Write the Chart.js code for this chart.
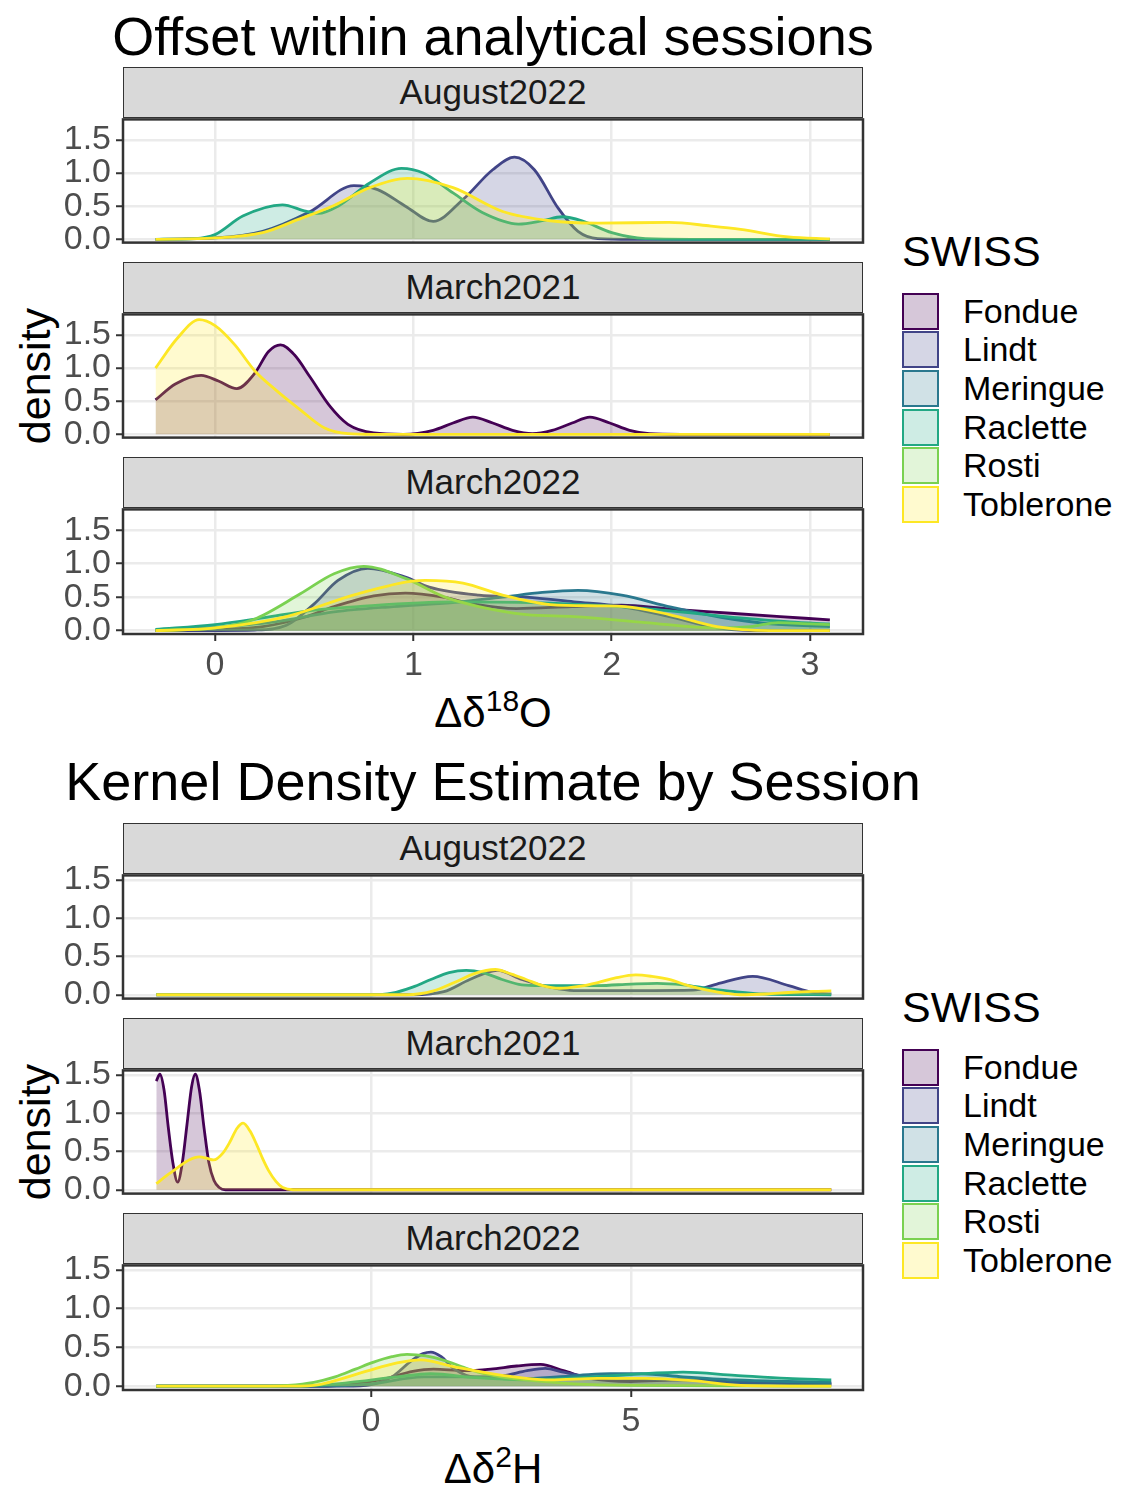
<!DOCTYPE html>
<html>
<head>
<meta charset="utf-8">
<script src="https://cdn.jsdelivr.net/npm/chart.js@4.4.1/dist/chart.umd.min.js"></script>
<style>
  body { margin: 0; background: #fff; font-family: "Liberation Sans", Arial, sans-serif; }
  #page { position: relative; width: 1121px; height: 1490px; overflow: hidden; background: #fff; }
  .title { position: absolute; left: 493px; transform: translateX(-50%); font-size: 54px; line-height: 1; white-space: nowrap; color: #000; }
  .strip { position: absolute; left: 123px; width: 740px; height: 51px; box-sizing: border-box; background: #D9D9D9;
           border: 1.5px solid #333; text-align: center; font-size: 35px; line-height: 48px; color: #1A1A1A; z-index: 2; }
  .panel { position: absolute; left: 0; z-index: 1; }
  .ytitle { position: absolute; width: 300px; height: 50px; line-height: 50px; text-align: center; font-size: 43px;
            color: #000; transform: rotate(-90deg); }
  .xtitle { position: absolute; left: 493px; transform: translateX(-50%); font-size: 42px; line-height: 1; white-space: nowrap; color: #000; }
  .xtitle sup { font-size: 30px; vertical-align: 16px; line-height: 0; }
  .legend { position: absolute; left: 902px; }
  .legend .ltitle { font-size: 43px; line-height: 1; color: #000; margin-bottom: 19px; }
  .legend .row { display: flex; align-items: center; height: 38.6px; }
  .legend .key { width: 37px; height: 37px; box-sizing: border-box; border: 2.5px solid; }
  .legend .lab { margin-left: 24px; font-size: 34px; color: #000; }
</style>
</head>
<body>
<div id="page"></div>
<script>
const sessions = ['August2022', 'March2021', 'March2022'];
const brands = ['Fondue', 'Lindt', 'Meringue', 'Raclette', 'Rosti', 'Toblerone'];
const brandColors = ['#440154', '#414487', '#2A788E', '#22A884', '#7AD151', '#FDE725'];

const densityTicks = [0, 0.5, 1.0, 1.5];
const o18Ticks = [0, 1, 2, 3];
const h2Ticks = [0, 5];

// offset d18O, [x, density]
const o18Aug22Lindt = [[-0.3,0],[0,0.02],[0.24,0.12],[0.48,0.42],[0.7,0.81],[0.82,0.75],[0.96,0.5],[1.1,0.27],[1.25,0.6],[1.4,1.05],[1.51,1.24],[1.61,1.05],[1.73,0.47],[1.83,0.12],[1.93,0.01],[2.1,0],[3.1,0]];
const o18Aug22Raclette = [[-0.3,0],[-0.1,0.01],[0,0.07],[0.14,0.35],[0.34,0.52],[0.45,0.43],[0.52,0.39],[0.62,0.5],[0.78,0.85],[0.94,1.07],[1.05,1.0],[1.2,0.7],[1.35,0.4],[1.53,0.23],[1.65,0.28],[1.75,0.34],[1.85,0.28],[2.0,0.1],[2.17,0.01],[2.4,0],[3.1,0]];
const o18Aug22Toblerone = [[-0.3,0],[0,0.02],[0.24,0.1],[0.42,0.3],[0.6,0.51],[0.78,0.78],[0.97,0.92],[1.2,0.78],[1.45,0.42],[1.69,0.28],[1.93,0.245],[2.29,0.255],[2.5,0.2],[2.65,0.15],[2.89,0.035],[3.1,0.005]];

const o18Mar21Fondue = [[-0.3,0.52],[-0.2,0.76],[-0.07,0.89],[0.02,0.8],[0.11,0.69],[0.2,0.92],[0.27,1.25],[0.33,1.35],[0.4,1.2],[0.48,0.86],[0.58,0.42],[0.67,0.15],[0.8,0.02],[0.95,0],[1.1,0.06],[1.2,0.17],[1.3,0.26],[1.4,0.17],[1.5,0.06],[1.6,0.01],[1.7,0.06],[1.8,0.17],[1.89,0.26],[1.99,0.17],[2.09,0.06],[2.19,0.01],[2.35,0],[3.1,0]];
const o18Mar21Toblerone = [[-0.3,1.0],[-0.19,1.45],[-0.08,1.73],[0,1.64],[0.1,1.35],[0.2,0.96],[0.31,0.66],[0.43,0.37],[0.55,0.1],[0.67,0.01],[0.8,0],[3.1,0]];

const o18Mar22Fondue = [[-0.3,0],[0,0.02],[0.24,0.06],[0.45,0.2],[0.6,0.36],[0.8,0.52],[0.96,0.56],[1.15,0.5],[1.3,0.4],[1.52,0.33],[1.8,0.36],[2.05,0.38],[2.3,0.32],[2.6,0.26],[2.85,0.21],[3.1,0.16]];
const o18Mar22Lindt = [[-0.3,0],[0.2,0.01],[0.36,0.08],[0.5,0.4],[0.62,0.75],[0.77,0.93],[0.96,0.8],[1.08,0.65],[1.33,0.53],[1.57,0.5],[1.81,0.43],[2.05,0.36],[2.29,0.21],[2.53,0.04],[2.7,0],[3.1,0]];
const o18Mar22Meringue = [[-0.3,0.01],[0,0.05],[0.3,0.13],[0.6,0.28],[0.9,0.36],[1.2,0.42],[1.45,0.5],[1.65,0.57],[1.83,0.6],[2.05,0.53],[2.3,0.35],[2.55,0.2],[2.8,0.1],[3.1,0.06]];
const o18Mar22Raclette = [[-0.3,0.02],[0,0.09],[0.24,0.19],[0.48,0.3],[0.72,0.36],[1.2,0.43],[1.69,0.41],[2.17,0.33],[2.65,0.19],[2.9,0.13],[3.1,0.1]];
const o18Mar22Rosti = [[-0.3,0],[0,0.04],[0.19,0.16],[0.43,0.55],[0.6,0.85],[0.75,0.96],[0.96,0.78],[1.16,0.5],[1.33,0.36],[1.57,0.24],[1.81,0.21],[2.17,0.12],[2.53,0.04],[2.7,0.06],[2.84,0.12],[3.0,0.1],[3.1,0.09]];
const o18Mar22Toblerone = [[-0.3,0],[0,0.04],[0.36,0.21],[0.72,0.55],[1.06,0.75],[1.25,0.71],[1.45,0.53],[1.69,0.39],[1.93,0.37],[2.07,0.36],[2.29,0.24],[2.53,0.06],[2.8,0],[3.1,0]];

// offset d2H, [x, density]
const h2Aug22Lindt = [[-4.13,0],[0.8,0],[1.4,0.04],[1.9,0.2],[2.43,0.32],[2.9,0.2],[3.44,0.1],[3.9,0.055],[5.28,0.055],[6.19,0.06],[6.65,0.14],[7.34,0.24],[8.03,0.12],[8.49,0.03],[8.85,0.01]];
const h2Aug22Raclette = [[-4.13,0],[0,0],[0.4,0.02],[0.8,0.1],[1.15,0.2],[1.5,0.29],[1.83,0.32],[2.15,0.29],[2.52,0.2],[2.9,0.13],[3.26,0.12],[4.36,0.12],[5.0,0.14],[5.5,0.15],[6.0,0.13],[6.5,0.08],[7.0,0.04],[7.57,0.01],[8.85,0]];
const h2Aug22Toblerone = [[-4.13,0],[0.69,0],[1.2,0.05],[1.6,0.16],[2.0,0.28],[2.39,0.33],[2.7,0.27],[2.98,0.2],[3.3,0.12],[3.62,0.085],[4.0,0.11],[4.36,0.16],[4.7,0.22],[5.09,0.26],[5.4,0.24],[5.73,0.2],[6.1,0.12],[6.47,0.06],[6.8,0.02],[7.1,0],[7.6,0.01],[8.03,0.03],[8.5,0.045],[8.85,0.05]];

const h2Mar21Fondue = [[-4.13,1.42],[-4.06,1.51],[-3.98,1.3],[-3.9,0.82],[-3.81,0.35],[-3.72,0.1],[-3.63,0.35],[-3.54,0.85],[-3.45,1.35],[-3.38,1.51],[-3.3,1.3],[-3.21,0.8],[-3.12,0.36],[-3.02,0.12],[-2.92,0.03],[-2.8,0],[8.85,0]];
const h2Mar21Toblerone = [[-4.13,0.08],[-3.92,0.19],[-3.72,0.29],[-3.5,0.39],[-3.3,0.43],[-3.15,0.41],[-3.03,0.39],[-2.85,0.48],[-2.71,0.63],[-2.58,0.8],[-2.46,0.87],[-2.33,0.77],[-2.2,0.59],[-2.08,0.4],[-1.97,0.25],[-1.83,0.11],[-1.7,0.03],[-1.5,0],[8.85,0]];

const h2Mar22Fondue = [[-4.13,0],[-1,0],[-0.3,0.03],[0.3,0.1],[0.8,0.19],[1.2,0.22],[1.8,0.2],[2.3,0.22],[2.8,0.26],[3.26,0.28],[3.7,0.2],[4.2,0.1],[5.0,0.06],[6.0,0.08],[7.0,0.06],[8.0,0.04],[8.85,0.03]];
const h2Mar22Lindt = [[-4.13,0],[-0.5,0],[0,0.02],[0.4,0.12],[0.78,0.33],[1.0,0.42],[1.15,0.44],[1.35,0.38],[1.6,0.22],[2.0,0.12],[2.5,0.13],[3.0,0.2],[3.35,0.23],[3.7,0.18],[4.2,0.12],[5,0.1],[6,0.08],[7,0.05],[8,0.04],[8.85,0.03]];
const h2Mar22Meringue = [[-4.13,0],[-1,0],[0,0.03],[1,0.12],[2,0.12],[3,0.1],[4,0.14],[4.6,0.16],[5.2,0.16],[6,0.12],[7,0.08],[8,0.06],[8.85,0.05]];
const h2Mar22Raclette = [[-4.13,0],[-1.5,0],[-0.5,0.04],[0.5,0.12],[1.15,0.16],[2.0,0.11],[3.0,0.08],[4.0,0.11],[5.0,0.15],[6.0,0.18],[7.0,0.14],[8.0,0.1],[8.85,0.08]];
const h2Mar22Rosti = [[-4.13,0],[-2,0],[-1.6,0.01],[-1.1,0.05],[-0.69,0.12],[-0.3,0.22],[0.05,0.31],[0.4,0.38],[0.69,0.41],[1.05,0.39],[1.42,0.33],[1.75,0.25],[2.06,0.18],[2.5,0.12],[2.98,0.08],[3.9,0.03],[5,0.01],[8.85,0]];
const h2Mar22Toblerone = [[-4.13,0],[-1.5,0],[-1.0,0.02],[-0.69,0.07],[-0.05,0.2],[0.5,0.3],[0.96,0.34],[1.6,0.25],[2.52,0.14],[3.44,0.08],[4.36,0.1],[5.28,0.1],[6.19,0.07],[7.11,0.01],[8.85,0]];

const o18Panels = [
  { Lindt: o18Aug22Lindt, Raclette: o18Aug22Raclette, Toblerone: o18Aug22Toblerone },
  { Fondue: o18Mar21Fondue, Toblerone: o18Mar21Toblerone },
  { Fondue: o18Mar22Fondue, Lindt: o18Mar22Lindt, Meringue: o18Mar22Meringue, Raclette: o18Mar22Raclette, Rosti: o18Mar22Rosti, Toblerone: o18Mar22Toblerone }
];
const h2Panels = [
  { Lindt: h2Aug22Lindt, Raclette: h2Aug22Raclette, Toblerone: h2Aug22Toblerone },
  { Fondue: h2Mar21Fondue, Toblerone: h2Mar21Toblerone },
  { Fondue: h2Mar22Fondue, Lindt: h2Mar22Lindt, Meringue: h2Mar22Meringue, Raclette: h2Mar22Raclette, Rosti: h2Mar22Rosti, Toblerone: h2Mar22Toblerone }
];

const page = document.getElementById('page');
const PAD = 24, PANEL_H = 126, XAXIS_H = 56;
const FILL_ALPHA = 0.22;

function withAlpha(hex, a) {
  const n = parseInt(hex.slice(1), 16);
  return 'rgba(' + (n >> 16) + ',' + ((n >> 8) & 255) + ',' + (n & 255) + ',' + a + ')';
}

// border round the plotting area, like theme_bw
const panelBorder = {
  id: 'panelBorder',
  afterDraw(chart) {
    const a = chart.chartArea, c = chart.ctx;
    c.save();
    c.strokeStyle = '#333333';
    c.lineWidth = 2.5;
    c.strokeRect(a.left, a.top, a.right - a.left, a.bottom - a.top);
    c.restore();
  }
};

function addDiv(cls, html, style) {
  const d = document.createElement('div');
  d.className = cls;
  d.innerHTML = html;
  Object.assign(d.style, style);
  page.appendChild(d);
  return d;
}

function makePanel(top, series, xRange, xTicks, yRange, showX) {
  const h = PAD + PANEL_H + (showX ? XAXIS_H + 4 : PAD);
  const wrap = addDiv('panel', '', { top: (top - PAD) + 'px' });
  const canvas = document.createElement('canvas');
  canvas.width = 880; canvas.height = h;
  wrap.appendChild(canvas);

  const datasets = [];
  brands.forEach(function(b, i) {
    if (!series[b]) return;
    datasets.push({
      label: b,
      data: series[b].map(p => ({ x: p[0], y: p[1] })),
      borderColor: brandColors[i],
      backgroundColor: withAlpha(brandColors[i], FILL_ALPHA),
      borderWidth: 2.8,
      fill: 'origin',
      pointRadius: 0,
      cubicInterpolationMode: 'monotone',
      order: brands.length - i
    });
  });

  new Chart(canvas, {
    type: 'line',
    data: { datasets: datasets },
    plugins: [panelBorder],
    options: {
      responsive: false,
      animation: false,
      layout: { padding: { top: PAD, right: 17, bottom: showX ? 4 : PAD, left: 0 } },
      plugins: { legend: { display: false }, tooltip: { enabled: false } },
      scales: {
        x: {
          type: 'linear', min: xRange[0], max: xRange[1],
          afterBuildTicks: s => { s.ticks = xTicks.map(v => ({ value: v })); },
          afterFit: s => { s.height = showX ? XAXIS_H : 0; },
          border: { display: false },
          grid: { color: '#EBEBEB', lineWidth: 2.5, drawTicks: showX, tickColor: '#333333', tickLength: 7, tickWidth: 2 },
          ticks: { display: showX, autoSkip: false, color: '#4D4D4D', padding: 4, maxRotation: 0,
                   font: { family: 'Liberation Sans', size: 34 } }
        },
        y: {
          type: 'linear', min: yRange[0], max: yRange[1],
          afterBuildTicks: s => { s.ticks = densityTicks.map(v => ({ value: v })); },
          afterFit: s => { s.width = 123; },
          border: { display: false },
          grid: { color: '#EBEBEB', lineWidth: 2.5, tickColor: '#333333', tickLength: 7, tickWidth: 2 },
          ticks: { autoSkip: false, color: '#4D4D4D', padding: 5, callback: v => v.toFixed(1),
                   font: { family: 'Liberation Sans', size: 34 } }
        }
      }
    }
  });
}

function makeGroup(offset, title, panels, xRange, xTicks, yRange, xTitle) {
  addDiv('title', title, { top: (9 + offset.title) + 'px' });
  sessions.forEach(function(s, k) {
    const top = 118 + offset.panels + k * 195;
    addDiv('strip', s, { top: (top - 51) + 'px' });
    makePanel(top, panels[k], xRange, xTicks, yRange, k === sessions.length - 1);
  });
  addDiv('ytitle', 'density', { left: (35 - 150) + 'px', top: (376 + offset.panels - 25) + 'px' });
  addDiv('xtitle', xTitle, { top: (692 + offset.panels) + 'px' });

  const leg = addDiv('legend', '<div class="ltitle">SWISS</div>', { top: (230 + offset.panels) + 'px' });
  brands.forEach(function(b, i) {
    const row = document.createElement('div');
    row.className = 'row';
    row.innerHTML = '<div class="key" style="border-color:' + brandColors[i] + ';background:' +
      withAlpha(brandColors[i], FILL_ALPHA) + '"></div><div class="lab">' + b + '</div>';
    leg.appendChild(row);
  });
}

makeGroup({ title: 0, panels: 0 }, 'Offset within analytical sessions', o18Panels,
  [-0.464, 3.267], o18Ticks, [-0.05, 1.81], '&Delta;&delta;<sup>18</sup>O');
makeGroup({ title: 745, panels: 756 }, 'Kernel Density Estimate by Session', h2Panels,
  [-4.77, 9.46], h2Ticks, [-0.05, 1.56], '&Delta;&delta;<sup>2</sup>H');
</script>
</body>
</html>
